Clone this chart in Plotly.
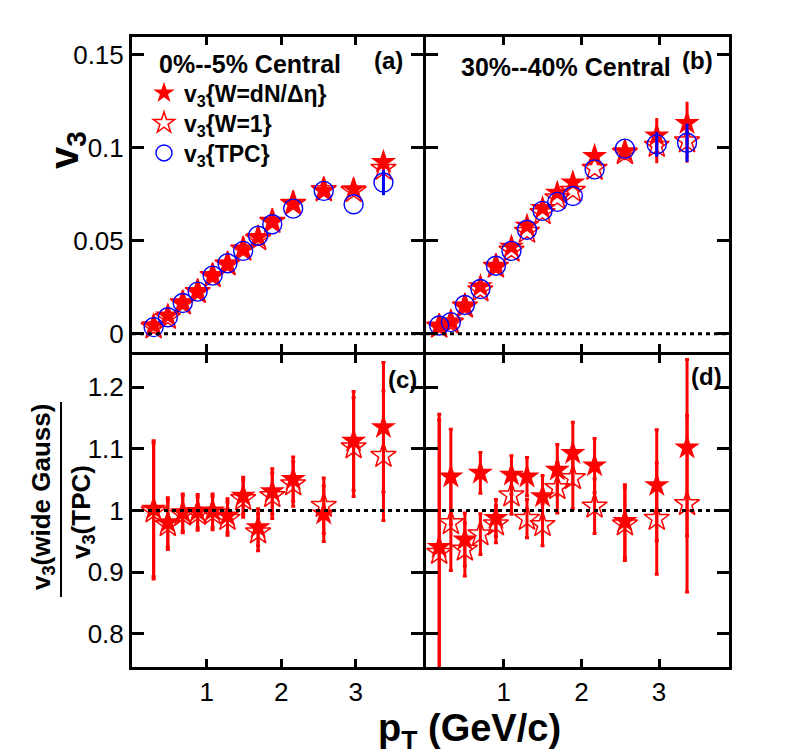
import plotly.graph_objects as go
from plotly.subplots import make_subplots

# --- data ---------------------------------------------------------------------
# (a) 0-5% central
pt_a = [0.29, 0.48, 0.68, 0.88, 1.08, 1.28, 1.49, 1.69, 1.88, 2.16, 2.57, 2.97, 3.37]
v3_wdn_a = [0.0045, 0.0098, 0.0166, 0.0227, 0.0313, 0.0376, 0.0457, 0.0520, 0.0603, 0.0702, 0.0768, 0.0777, 0.0923]
v3_w1_a = [0.0036, 0.0087, 0.0165, 0.0226, 0.0312, 0.0374, 0.0454, 0.0510, 0.0603, 0.0700, 0.0774, 0.0768, 0.0888]
v3_tpc_a = [0.0036, 0.0089, 0.0166, 0.0227, 0.0313, 0.0379, 0.0446, 0.0527, 0.0589, 0.0673, 0.0768, 0.0696, 0.0813]
# errors hidden under the markers are left at 0
err_star_a = [0, 0, 0, 0, 0, 0, 0, 0, 0, 0, 0, 0.002, 0.004]
err_tpc_a = [0, 0, 0, 0, 0, 0, 0, 0, 0, 0, 0, 0, 0.0068]

# (b) 30-40% central
pt_b = [0.17, 0.32, 0.50, 0.70, 0.90, 1.10, 1.30, 1.50, 1.69, 1.89, 2.17, 2.56, 2.97, 3.36]
v3_wdn_b = [0.0040, 0.0066, 0.0150, 0.0255, 0.0364, 0.0468, 0.0580, 0.0675, 0.0758, 0.0813, 0.0955, 0.0980, 0.1065, 0.1132]
v3_w1_b = [0.0040, 0.0060, 0.0148, 0.0235, 0.0362, 0.0448, 0.0550, 0.0650, 0.0730, 0.0770, 0.0888, 0.0973, 0.1012, 0.1035]
v3_tpc_b = [0.0045, 0.0063, 0.0155, 0.0241, 0.0366, 0.0446, 0.0559, 0.0661, 0.0709, 0.0741, 0.0884, 0.0995, 0.1018, 0.1027]
err_star_b = [0, 0, 0, 0, 0, 0, 0, 0, 0, 0, 0, 0.004, 0.0095, 0.0115]
err_tpc_b = [0, 0, 0, 0, 0, 0, 0, 0, 0, 0, 0, 0, 0.0067, 0.0103]

# (c) ratio to TPC, 0-5%
ratio_wdn_c = [1.003, 0.981, 0.997, 0.999, 1.000, 0.992, 1.024, 0.973, 1.031, 1.051, 0.995, 1.113, 1.135]
ratio_w1_c = [0.999, 0.977, 0.994, 0.995, 0.996, 0.987, 1.019, 0.965, 1.024, 1.043, 1.008, 1.103, 1.089]
err_c = [0.110, 0.040, 0.030, 0.027, 0.027, 0.027, 0.030, 0.030, 0.037, 0.036, 0.045, 0.080, 0.105]

# (d) ratio to TPC, 30-40%
ratio_wdn_d = [0.941, 1.055, 0.953, 1.061, 0.988, 1.058, 1.055, 1.023, 1.066, 1.093, 1.073, 0.983, 1.041, 1.102]
ratio_w1_d = [0.932, 0.980, 0.937, 0.962, 0.978, 1.025, 0.987, 0.977, 1.037, 1.053, 1.007, 0.978, 0.987, 1.011]
err_d = [0.215, 0.077, 0.043, 0.033, 0.030, 0.031, 0.031, 0.034, 0.041, 0.050, 0.044, 0.059, 0.090, 0.143]

top_ticks = [0, 0.05, 0.1, 0.15]
top_labels = ["0", "0.05", "0.1", "0.15"]
bot_ticks = [0.8, 0.9, 1.0, 1.1, 1.2]
bot_labels = ["0.8", "0.9", "1", "1.1", "1.2"]
x_ticks = [1, 2, 3]
x_labels = ["1", "2", "3"]

# --- style ----------------------------------------------------------------------
FONT = "Liberation Sans, Arial, Helvetica, sans-serif"
RED = "#ff0000"
BLUE = "#0000ff"
W, H = 788, 756
OFF = 8  # default body margin of the html page
L, R, T, B = 124, 67, 29, 97
PW, PH = W - L - R, H - T - B


def px(x, y):
    """pixel position on the page -> paper coordinates"""
    return (x - OFF - L) / PW, (H - B - (y - OFF)) / PH


fig = make_subplots(rows=2, cols=2, horizontal_spacing=0, vertical_spacing=0)


def err(arr, color, cap=2):
    return dict(type="data", array=arr, color=color, thickness=3, width=cap)


STAR = dict(symbol="star", size=19, color=RED, line=dict(width=0))
OSTAR = dict(symbol="star-open", size=19, color=RED, line=dict(width=1.5))
CIRC = dict(symbol="circle-open", size=19, color=BLUE, line=dict(width=1.4))


def add_top(pt, wdn, w1, tpc, es, et, col, legend):
    fig.add_trace(go.Scatter(x=pt, y=wdn, mode="markers", name="v<sub>3</sub>{W=dN/\u0394\u03b7}",
                             marker=STAR, error_y=err(es, RED, 0), showlegend=legend,
                             legend="legend"), row=1, col=col)
    fig.add_trace(go.Scatter(x=pt, y=w1, mode="markers", name="v<sub>3</sub>{W=1}",
                             marker=OSTAR, error_y=err(es, RED, 0), showlegend=legend,
                             legend="legend2"), row=1, col=col)
    fig.add_trace(go.Scatter(x=pt, y=tpc, mode="markers", name="v<sub>3</sub>{TPC}",
                             marker=CIRC, error_y=err(et, BLUE, 0), showlegend=legend,
                             legend="legend3"), row=1, col=col)


def add_bot(pt, wdn, w1, e, col):
    fig.add_trace(go.Scatter(x=pt, y=wdn, mode="markers", showlegend=False,
                             marker=STAR, error_y=err(e, RED)), row=2, col=col)
    fig.add_trace(go.Scatter(x=pt, y=w1, mode="markers", showlegend=False,
                             marker=OSTAR, error_y=err(e, RED)), row=2, col=col)


add_top(pt_a, v3_wdn_a, v3_w1_a, v3_tpc_a, err_star_a, err_tpc_a, 1, True)
add_top(pt_b, v3_wdn_b, v3_w1_b, v3_tpc_b, err_star_b, err_tpc_b, 2, False)
add_bot(pt_a, ratio_wdn_c, ratio_w1_c, err_c, 1)
add_bot(pt_b, ratio_wdn_d, ratio_w1_d, err_d, 2)

axis_common = dict(showline=True, linecolor="black", linewidth=3, mirror="ticks",
                   ticks="inside", tickcolor="black", tickwidth=2.5, showgrid=False,
                   zeroline=False, tickfont=dict(family=FONT, size=26, color="black"))

# panels share their border lines (lines sit 1.5 px outside each domain)
sx = 292.5 / PW
gx = 1.5 / PW
sy = 313.4 / PH
gy = 1.5 / PH
xdom = {1: [0, sx - gx], 2: [sx + gx, 1]}
ydom = {1: [sy + gy, 1], 2: [0, sy - gy]}

for row in (1, 2):
    for col in (1, 2):
        fig.update_xaxes(axis_common, range=[0, 3.9], tickvals=x_ticks, ticktext=x_labels,
                         ticklen=8, showticklabels=(row == 2), domain=xdom[col], row=row, col=col)
        if row == 1:
            fig.update_yaxes(axis_common, range=[-0.0098, 0.1595], tickvals=top_ticks,
                             ticktext=top_labels, ticklen=12, showticklabels=(col == 1),
                             domain=ydom[row], row=row, col=col)
        else:
            fig.update_yaxes(axis_common, range=[0.7465, 1.252], tickvals=bot_ticks,
                             ticktext=bot_labels, ticklen=12, showticklabels=(col == 1),
                             domain=ydom[row], row=row, col=col)

# dotted reference lines
for xref, yref, level in (("x", "y", 0), ("x2", "y2", 0), ("x3", "y3", 1), ("x4", "y4", 1)):
    fig.add_shape(type="line", xref=f"{xref} domain", yref=yref, x0=0, x1=1, y0=level, y1=level,
                  line=dict(color="black", width=3, dash="4px,4px"))

# fraction bar of the lower y title
fx0, fy0 = px(61, 402)
fx1, fy1 = px(61, 597)
fig.add_shape(type="line", xref="paper", yref="paper", x0=fx0, x1=fx1, y0=fy0, y1=fy1,
              line=dict(color="black", width=2))


def note(text, x, y, size, xanchor="center", angle=0):
    ax, ay = px(x, y)
    fig.add_annotation(text=text, xref="paper", yref="paper", x=ax, y=ay, showarrow=False,
                       xanchor=xanchor, yanchor="middle", textangle=angle,
                       font=dict(family=FONT, size=size, color="black", weight="bold"))


note("0%--5% Central", 157, 64, 25, xanchor="left")
note("(a)", 388, 61, 24)
note("30%--40% Central", 459, 67, 25, xanchor="left")
note("(b)", 697, 61, 24)
note("(c)", 402, 379, 24)
note("(d)", 706, 376, 24)
note("v<sub>3</sub>", 67, 150, 40, angle=-90)
note("v<sub>3</sub>(wide Gauss)", 42, 497, 26, angle=-90)
note("v<sub>3</sub>(TPC)", 82, 512, 26, angle=-90)
note("p<sub>T</sub> (GeV/c)", 469, 731, 38)


def leg(y):
    lx, ly = px(144, y)
    return dict(x=lx, y=ly, xanchor="left", yanchor="middle", bgcolor="rgba(0,0,0,0)",
                font=dict(family=FONT, size=23, color="black", weight="bold"),
                itemwidth=30, borderwidth=0)


fig.update_layout(
    width=W, height=H,
    margin=dict(l=L, r=R, t=T, b=B),
    paper_bgcolor="white", plot_bgcolor="white",
    font=dict(family=FONT, color="black"),
    legend=leg(93), legend2=leg(123), legend3=leg(153),
)

fig.write_html("out.html")
